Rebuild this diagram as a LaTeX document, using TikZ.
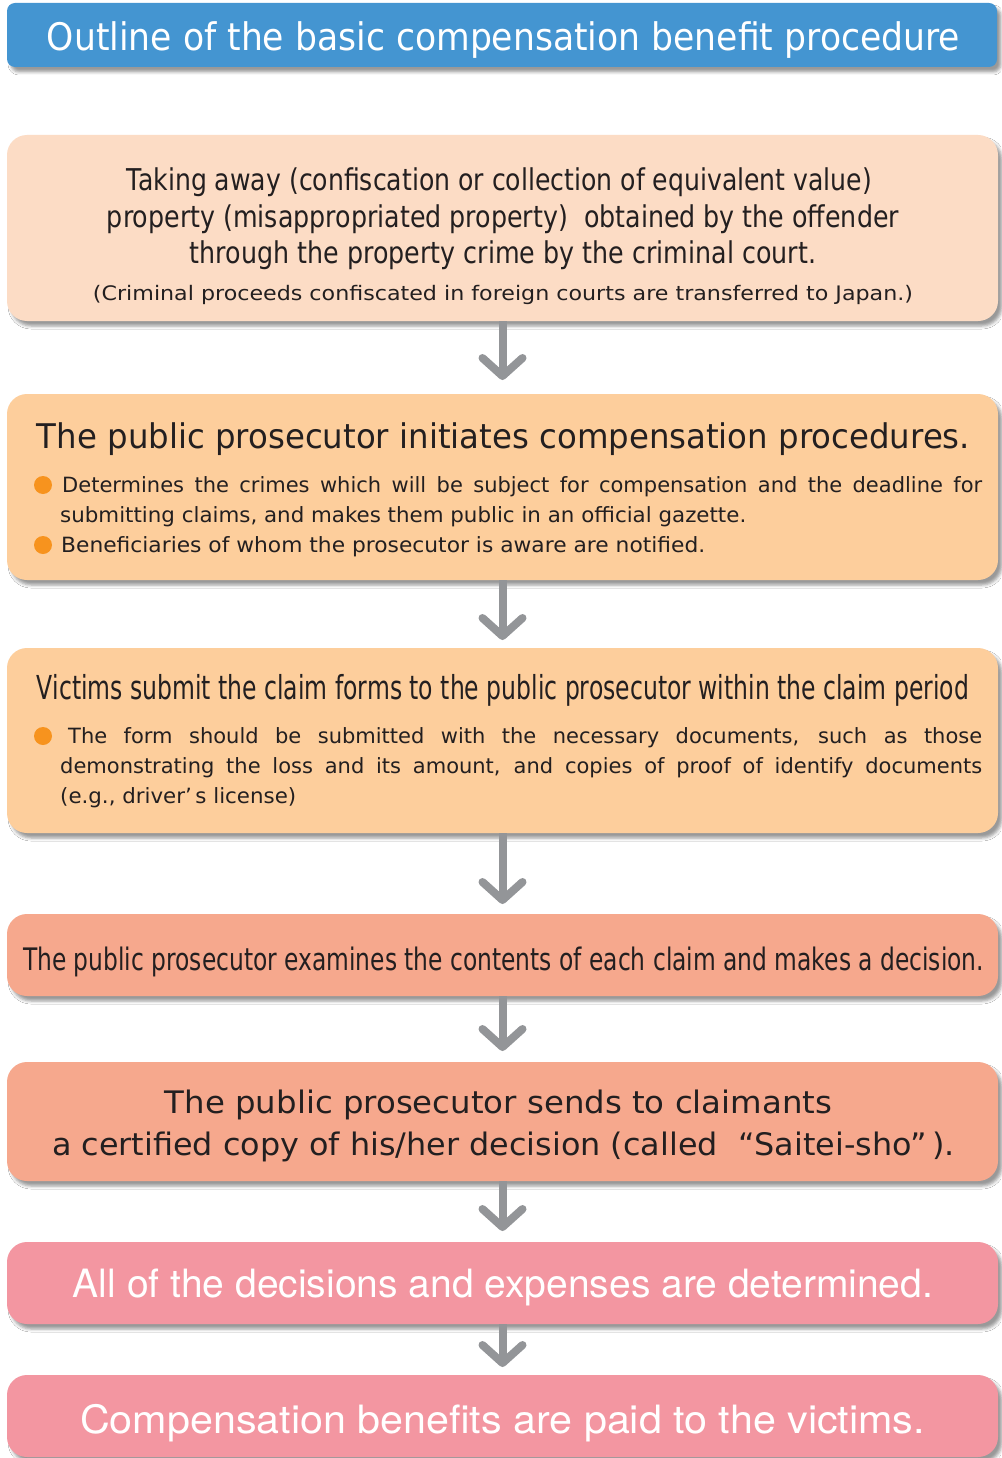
\documentclass[tikz,border=0pt]{standalone}
\usepackage{fontspec}
\setmainfont{DejaVu Sans}
\newfontfamily\heros{TeX Gyre Heros}
\usepackage{graphicx}
\usetikzlibrary{arrows.meta,shadows.blur}
\definecolor{hdr}{HTML}{4495D1}
\definecolor{cA}{HTML}{FCDCC5}
\definecolor{cB}{HTML}{FDCE9C}
\definecolor{cC}{HTML}{F6A88D}
\definecolor{cD}{HTML}{F396A1}
\definecolor{dotc}{HTML}{F7931E}
\definecolor{arr}{HTML}{939598}
\definecolor{ink}{HTML}{231F20}
\newcommand\fs[1]{\fontsize{#1pt}{#1pt}\selectfont}
\newcommand\fw[2]{\resizebox{#1}{\height}{#2}}
\newsavebox\jbox
\newcommand\jline[2]{\sbox\jbox{#2}\ifdim\wd\jbox>#1\relax\resizebox{#1}{\height}{#2}\else\makebox[#1][s]{#2}\fi}
\begin{document}
\begin{tikzpicture}[x=1pt,y=-1pt,
  box/.style={rectangle, rounded corners=20pt, inner sep=0pt, minimum width=991pt,
    blur shadow={shadow xshift=4pt, shadow yshift=-5pt, shadow blur radius=3pt, shadow opacity=40}},
  txt/.style={inner sep=0pt, anchor=base, text=ink},
  ltxt/.style={inner sep=0pt, anchor=base west, text=ink},
  wtxt/.style={inner sep=0pt, anchor=base, text=white},
  dot/.style={circle, fill=dotc, inner sep=0pt, minimum size=18pt},
  conn/.style={draw=arr, line width=8pt, -{Straight Barb[length=18pt, width=40pt, round]}},
]
\useasboundingbox (0,0) rectangle (1001,1458);
\fill[white] (0,0) rectangle (1001,1458);

% boxes
\node[box, rounded corners=8pt, fill=hdr, minimum width=990pt, minimum height=64pt] (h) at (502,35) {};
\node[box, fill=cA, minimum height=186pt] (b1) at (502.5,228) {};
\node[box, fill=cB, minimum height=186pt] (b2) at (502.5,487) {};
\node[box, fill=cB, minimum height=185pt] (b3) at (502.5,740.5) {};
\node[box, fill=cC, minimum height=82pt] (b4) at (502.5,955) {};
\node[box, fill=cC, minimum height=119pt] (b5) at (502.5,1121.5) {};
\node[box, fill=cD, minimum height=82pt] (b6) at (502.5,1283) {};
\node[box, fill=cD, minimum height=82pt] (b7) at (502.5,1416) {};

% connectors
\coordinate (a1) at (502.5,380);
\coordinate (a2) at (502.5,640);
\coordinate (a3) at (502.5,904);
\coordinate (a4) at (502.5,1051);
\coordinate (a5) at (502.5,1231);
\coordinate (a6) at (502.5,1367);
\draw[conn] (b1.south) -- (a1);
\draw[conn] (b2.south) -- (a2);
\draw[conn] (b3.south) -- (a3);
\draw[conn] (b4.south) -- (a4);
\draw[conn] (b5.south) -- (a5);
\draw[conn] (b6.south) -- (a6);

% header text
\node[wtxt] (ht) at (503.5,51) {\fs{38}\fw{913pt}{Outline of the basic compensation benefit procedure}};

% box 1
\node[txt] (t11) at (499.5,191) {\fs{30}\fw{745pt}{Taking away (confiscation or collection of equivalent value)}};
\node[txt] (t12) at (503,227) {\fs{30}\fw{792pt}{property (misappropriated property)\ \ obtained by the offender}};
\node[txt] (t13) at (503,263) {\fs{30}\fw{626pt}{through the property crime by the criminal court.}};
\node[txt] (t14) at (503,300) {\fs{20}\fw{820pt}{(Criminal proceeds confiscated in foreign courts are transferred to Japan.)}};

% box 2
\node[txt] (t21) at (503.5,448) {\fs{34}\fw{933pt}{The public prosecutor initiates compensation procedures.}};
\node[dot] (d21) at (43,485) {};
\node[ltxt] (t22) at (62,492) {\fs{21}\jline{920pt}{Determines the crimes which will be subject for compensation and the deadline for}};
\node[ltxt] (t23) at (60,522) {\fs{21}\fw{686pt}{submitting claims, and makes them public in an official gazette.}};
\node[dot] (d22) at (43,545) {};
\node[ltxt] (t24) at (61,552) {\fs{21}\fw{644pt}{Beneficiaries of whom the prosecutor is aware are notified.}};

% box 3
\node[txt] (t31) at (503,699) {\fs{33}\fw{932pt}{Victims submit the claim forms to the public prosecutor within the claim period}};
\node[dot] (d31) at (43,736) {};
\node[ltxt] (t32) at (68,743) {\fs{21}\jline{914pt}{The form should be submitted with the necessary documents, such as those}};
\node[ltxt] (t33) at (60,773) {\fs{21}\jline{922pt}{demonstrating the loss and its amount, and copies of proof of identify documents}};
\node[ltxt] (t34) at (60,803) {\fs{21}\fw{236pt}{(e.g., driver’\,s license)}};

% box 4
\node[txt] (t41) at (503.5,970) {\fs{31}\fw{961pt}{The public prosecutor examines the contents of each claim and makes a decision.}};

% box 5
\node[txt] (t51) at (498.5,1113) {\fs{31}\fw{667pt}{The public prosecutor sends to claimants}};
\node[txt] (t52) at (503.5,1155) {\fs{31}\fw{903pt}{a certified copy of his/her decision (called \ “Saitei-sho”\,).}};

% box 6, 7
\node[wtxt] (t61) at (503,1297) {\heros\fs{39}\fw{860pt}{All of the decisions and expenses are determined.}};
\node[wtxt] (t71) at (502.5,1433) {\heros\fs{39}\fw{845pt}{Compensation benefits are paid to the victims.}};
\end{tikzpicture}
\end{document}
